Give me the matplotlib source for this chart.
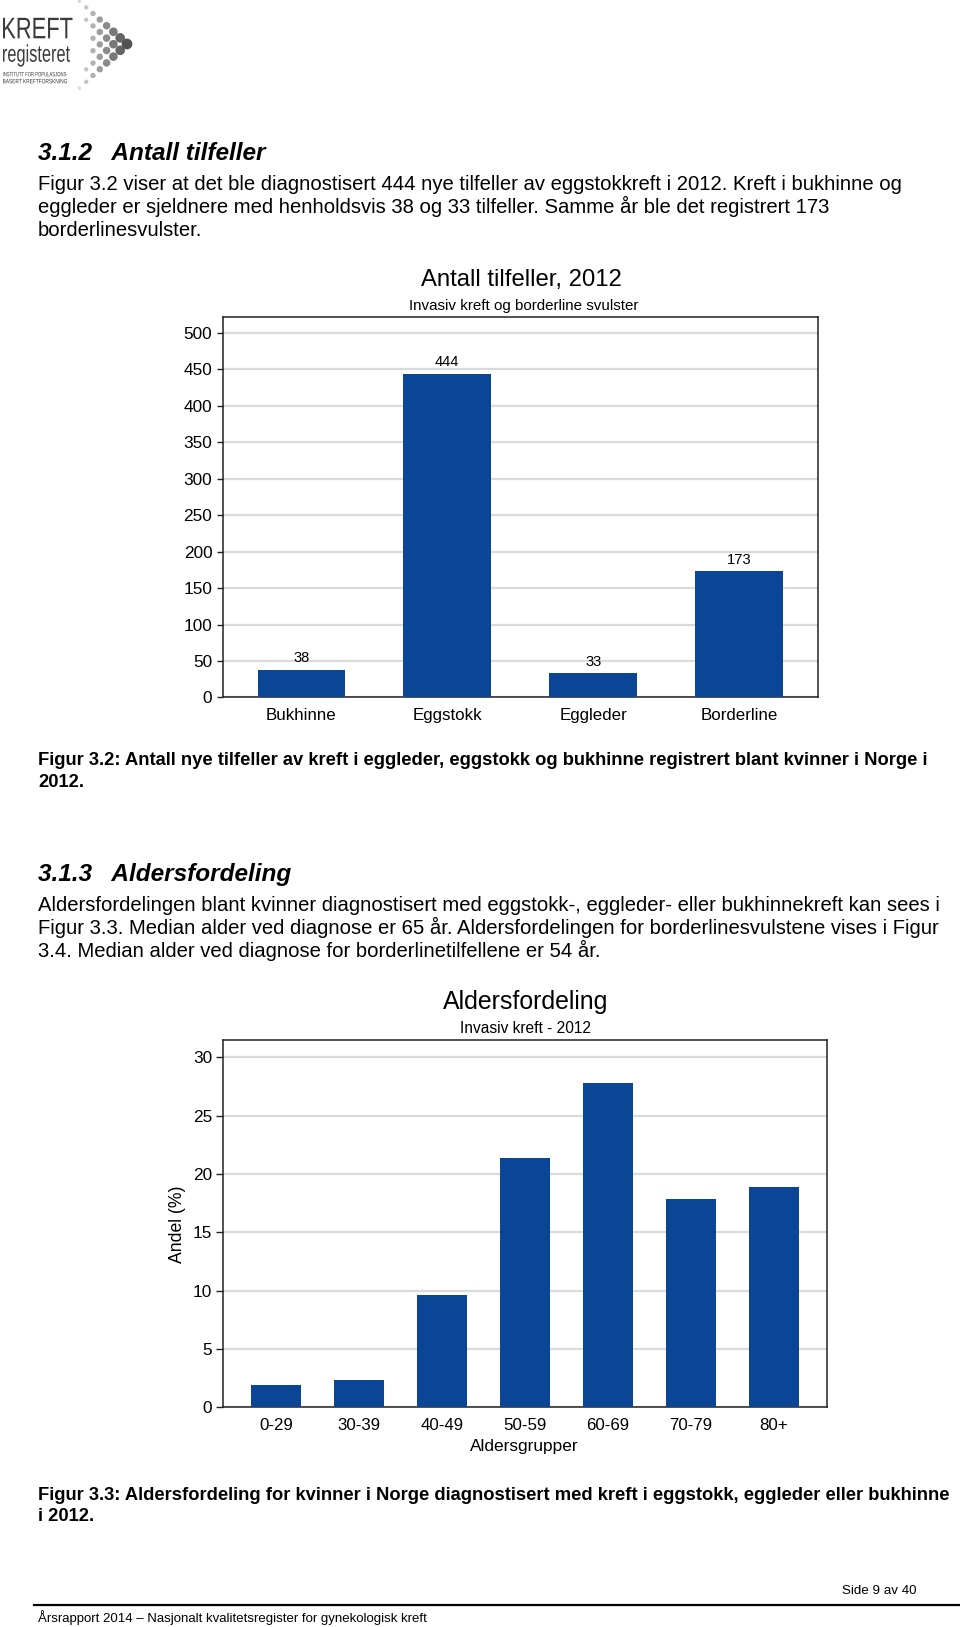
import matplotlib
matplotlib.use("Agg")
import matplotlib.pyplot as plt
import numpy as np
from matplotlib.textpath import TextPath
from matplotlib.patches import PathPatch
from matplotlib.font_manager import FontProperties
from matplotlib.transforms import Affine2D

# chart data
cases_labels = ["Bukhinne", "Eggstokk", "Eggleder", "Borderline"]
cases_counts = [38, 444, 33, 173]

age_groups = ["0-29", "30-39", "40-49", "50-59", "60-69", "70-79", "80+"]
age_share = [1.9, 2.3, 9.6, 21.4, 27.8, 17.9, 18.9]

W, H = 960, 1627
BLUE = "#0b4595"
GRID = "#dadada"
REG = ["Liberation Sans", "DejaVu Sans"]

plt.rcParams["font.family"] = REG

fig = plt.figure(figsize=(W / 100, H / 100), dpi=100)


def px(x, y):
    return x / W, 1 - y / H


def txt(x, y, s, **kw):
    fx, fy = px(x, y)
    kw.setdefault("va", "baseline")
    fig.text(fx, fy, s, **kw)


def axes_px(left, top, right, bottom):
    return fig.add_axes([left / W, 1 - bottom / H, (right - left) / W, (bottom - top) / H])


# ---- logo ----
lax = fig.add_axes([0, 1 - 95 / H, 150 / W, 95 / H])
lax.set_xlim(0, 150)
lax.set_ylim(95, 0)
lax.axis("off")


def squeezed(ax, s, x0, x1, base, em, color="#3a3a3a"):
    # text squeezed to a given width (the logo uses a condensed face)
    tp = TextPath((0, 0), s, size=1, prop=FontProperties(family="Liberation Sans"))
    ext = tp.get_extents()
    sx = (x1 - x0) / ext.width
    tr = Affine2D().translate(-ext.x0, 0).scale(sx, -em).translate(x0, base)
    ax.add_patch(PathPatch(tr.transform_path(tp), fc=color, ec="none"))


squeezed(lax, "KREFT", 3, 72.5, 38.3, 29.8)
squeezed(lax, "registeret", 3, 70, 61.7, 23.9)
squeezed(lax, "INSTITUTT FOR POPULASJONS-", 3, 67.5, 76.3, 6.3)
squeezed(lax, "BASERT KREFTFORSKNING", 3, 67, 83.3, 6.3)

tip = np.array([127.0, 44.0])
a = np.array([-6.8, -6.1])
b = np.array([-6.8, 6.3])
pts, sz, col = [], [], []
for i in range(8):
    for j in range(8):
        lo, hi = min(i, j), max(i, j)
        if lo > 2 or hi + 2 * lo > 7:
            continue
        p = tip + i * a + j * b
        d = i + j
        pts.append(p)
        sz.append((10 - d * 1.0) ** 2 * 0.6)
        col.append(str(min(0.32 + 0.075 * d, 0.86)))
pts = np.array(pts)
lax.scatter(pts[:, 0], pts[:, 1], s=sz, c=col, edgecolors="none")

# ---- section text ----
body = dict(fontsize=14.6, family=REG, color="black")
head = dict(fontsize=17.6, family=REG, fontweight="bold", fontstyle="italic")
cap = dict(fontsize=13.2, family=REG, fontweight="bold")

txt(38, 160, "3.1.2   Antall tilfeller", **head)
txt(38, 190, "Figur 3.2 viser at det ble diagnostisert 444 nye tilfeller av eggstokkreft i 2012. Kreft i bukhinne og", **body)
txt(38, 213, "eggleder er sjeldnere med henholdsvis 38 og 33 tilfeller. Samme år ble det registrert 173", **body)
txt(38, 236, "borderlinesvulster.", **body)

txt(38, 765, "Figur 3.2: Antall nye tilfeller av kreft i eggleder, eggstokk og bukhinne registrert blant kvinner i Norge i", **cap)
txt(38, 787, "2012.", **cap)

txt(38, 881, "3.1.3   Aldersfordeling", **head)
txt(38, 911, "Aldersfordelingen blant kvinner diagnostisert med eggstokk-, eggleder- eller bukhinnekreft kan sees i", **body)
txt(38, 934, "Figur 3.3. Median alder ved diagnose er 65 år. Aldersfordelingen for borderlinesvulstene vises i Figur", **body)
txt(38, 957, "3.4. Median alder ved diagnose for borderlinetilfellene er 54 år.", **body)

txt(38, 1500, "Figur 3.3: Aldersfordeling for kvinner i Norge diagnostisert med kreft i eggstokk, eggleder eller bukhinne", **cap)
txt(38, 1521, "i 2012.", **cap)

# ---- footer ----
txt(916, 1594, "Side 9 av 40", fontsize=9.6, family=REG, ha="right")
fig.add_artist(plt.Line2D([34 / W, 1.0], [1 - 1604.5 / H] * 2, color="black", lw=1.6))
txt(38, 1622, "Årsrapport 2014 – Nasjonalt kvalitetsregister for gynekologisk kreft", fontsize=9.5, family=REG)


def style_axes(ax, ticklen, pad):
    for s in ax.spines.values():
        s.set_color("#222222")
        s.set_linewidth(1.1)
    ax.yaxis.grid(True, color=GRID, lw=1.6)
    ax.set_axisbelow(True)
    ax.tick_params(axis="y", length=ticklen, width=1, color="#222222", labelsize=12.4, pad=pad)
    ax.tick_params(axis="x", length=0, labelsize=12.2, pad=7.5)


# ---- chart 1 ----
ax1 = axes_px(222.5, 317, 818, 697.4)
x1 = np.arange(len(cases_labels))
ax1.bar(x1, cases_counts, width=0.6, color=BLUE, zorder=3)
ax1.set_xlim(-0.54, 3.54)
ax1.set_ylim(0, 522)
ax1.set_yticks(range(0, 501, 50))
ax1.set_xticks(x1, cases_labels)
style_axes(ax1, 4, 3.3)
for xi, v in zip(x1, cases_counts):
    ax1.annotate(str(v), (xi, v), xytext=(0, 8.4), textcoords="offset points",
                 ha="center", va="center", fontsize=10.6)
txt(521, 286, "Antall tilfeller, 2012", fontsize=17.2, ha="center")
txt(524, 310, "Invasiv kreft og borderline svulster", fontsize=10.9, ha="center")

# ---- chart 2 ----
ax2 = axes_px(223, 1039.9, 827.1, 1407.3)
x2 = np.arange(len(age_groups))
ax2.bar(x2, age_share, width=0.6, color=BLUE, zorder=3)
ax2.set_xlim(-0.64, 6.64)
ax2.set_ylim(0, 31.5)
ax2.set_yticks(range(0, 31, 5))
ax2.set_xticks(x2, age_groups)
style_axes(ax2, 4.75, 3.2)
txt(526, 1009, "Aldersfordeling", fontsize=17.9, ha="center")
txt(526, 1033, "Invasiv kreft - 2012", fontsize=11.2, ha="center")
fx, fy = px(177, 1224.6)
fig.text(fx, fy, "Andel (%)", rotation=90, ha="center", va="center", fontsize=12.7)
txt(524, 1451, "Aldersgrupper", fontsize=12.4, ha="center")

fig.savefig("out.png", dpi=100)
